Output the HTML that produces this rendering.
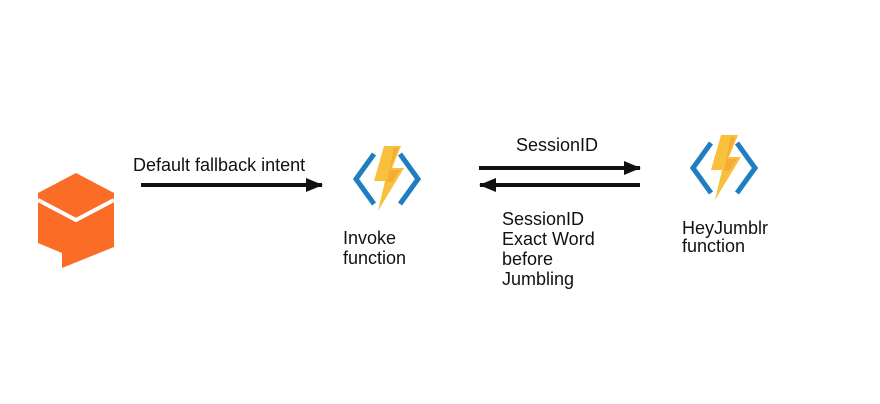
<!DOCTYPE html>
<html><head><style>
body{margin:0;background:#fff;}
svg{display:block;}
text{font-family:"Liberation Sans",Arial,sans-serif;font-size:18px;fill:#111;}
</style></head><body>
<svg width="880" height="404" viewBox="0 0 880 404">
<defs>
<marker id="ah" markerWidth="18" markerHeight="16" refX="16" refY="8" orient="auto" markerUnits="userSpaceOnUse" overflow="visible"><path d="M0,1 L17,8 L0,15 Z" fill="#111"/></marker>
<g id="fn">
<path d="M22,8 L4,33 L22,58" fill="none" stroke="#1f7dc1" stroke-width="5"/>
<path d="M48,8 L66,33 L48,58" fill="none" stroke="#1f7dc1" stroke-width="5"/>
<path d="M32,0 L49,0 L40,22 L52,22 L26,65 L33,35 L22,35 Z" fill="#f8c03c"/>
<path d="M42,2 L46,2 L38,24 L48,24 L40,36 L35,36 Z" fill="#f39c2f" opacity="0.6"/>
</g>
</defs>
<polygon points="76,173 114,193 114,247 62,268 62,253 38,243 38,193" fill="#fb6d26"/>
<polyline points="38,200 76,220 114,200" fill="none" stroke="#fff" stroke-width="4"/>
<text x="133" y="171">Default fallback intent</text>
<line x1="141" y1="185" x2="322" y2="185" stroke="#111" stroke-width="4" marker-end="url(#ah)"/>
<use href="#fn" x="352" y="146"/>
<text x="343" y="244">Invoke</text>
<text x="343" y="264">function</text>
<text x="516" y="151">SessionID</text>
<line x1="479" y1="168" x2="640" y2="168" stroke="#111" stroke-width="4" marker-end="url(#ah)"/>
<line x1="640" y1="185" x2="480" y2="185" stroke="#111" stroke-width="4" marker-end="url(#ah)"/>
<text x="502" y="225">SessionID</text>
<text x="502" y="245">Exact Word</text>
<text x="502" y="265">before</text>
<text x="502" y="285">Jumbling</text>
<use href="#fn" x="689" y="135"/>
<text x="682" y="234">HeyJumblr</text>
<text x="682" y="252">function</text>
</svg>
</body></html>
